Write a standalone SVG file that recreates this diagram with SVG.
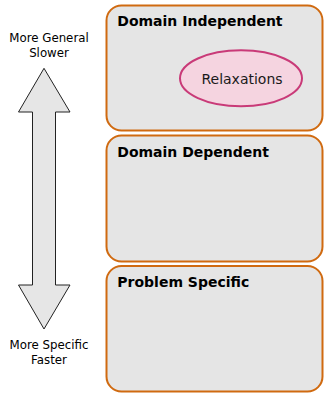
<svg xmlns="http://www.w3.org/2000/svg" width="324" height="393" viewBox="0 0 324 393">
<style>
.box{fill:#e5e5e5;stroke:#d06a10;stroke-width:2}
.title{font-family:"DejaVu Sans",sans-serif;font-weight:bold;font-size:14px;fill:#000}
.lbl{font-family:"DejaVu Sans",sans-serif;font-size:11.8px;fill:#000;text-anchor:middle}
.rel{fill:#f5d4e0;stroke:#c93a78;stroke-width:2}
.reltxt{font-family:"DejaVu Sans",sans-serif;font-size:14px;fill:#1a1a1a;text-anchor:middle}
.arrow{fill:#e6e6e6;stroke:#222;stroke-width:1}
</style>
<g id="domain-independent">
<rect class="box" x="106.5" y="5.5" width="216" height="125" rx="15"/>
<text class="title" x="117.3" y="25.7">Domain Independent</text>
</g>
<g id="relaxations">
<ellipse class="rel" cx="241" cy="78.3" rx="61" ry="28"/>
<text class="reltxt" x="242" y="84">Relaxations</text>
</g>
<g id="domain-dependent">
<rect class="box" x="106.5" y="135.5" width="216" height="126" rx="15"/>
<text class="title" x="117.3" y="156.7">Domain Dependent</text>
</g>
<g id="problem-specific">
<rect class="box" x="106.5" y="266" width="216" height="125.5" rx="15"/>
<text class="title" x="117.3" y="286.7">Problem Specific</text>
</g>
<g id="scale-arrow">
<path class="arrow" d="M44,68.3 L70,112 L55.5,112 L55.5,285 L70,285 L44,329 L18.5,285 L32.5,285 L32.5,112 L18.5,112 Z"/>
<text class="lbl" x="49" y="41.7">More General</text>
<text class="lbl" x="49" y="57">Slower</text>
<text class="lbl" x="49" y="349">More Specific</text>
<text class="lbl" x="49" y="364">Faster</text>
</g>
<g id="connectors"></g>
</svg>
